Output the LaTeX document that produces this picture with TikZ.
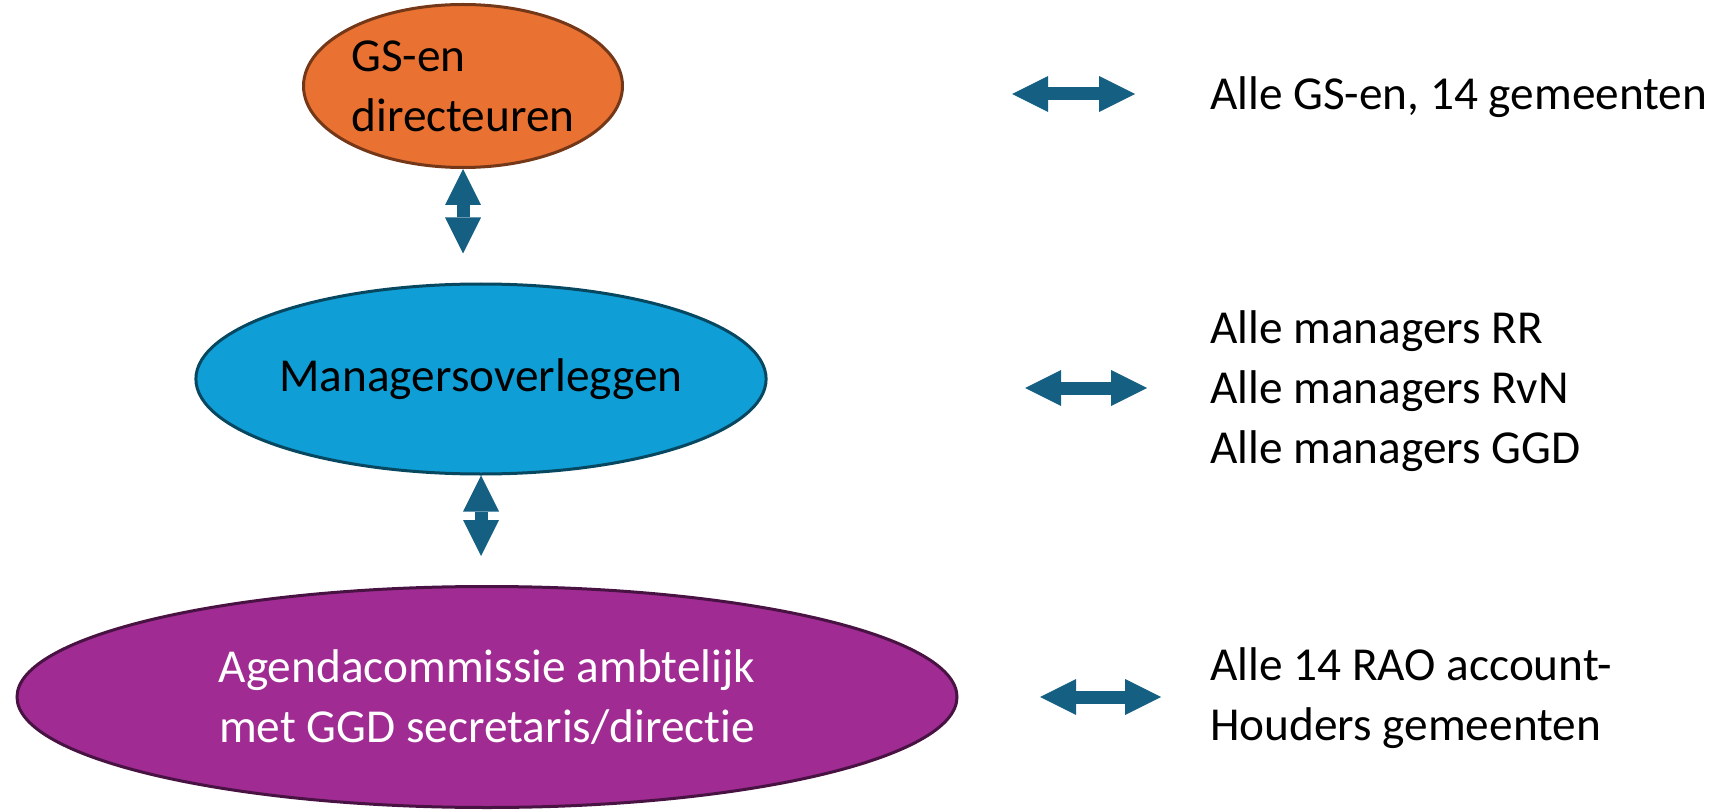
\documentclass[tikz,border=0pt]{standalone}
\usepackage{fontspec}
\setmainfont{Carlito}[Ligatures={NoCommon,NoRare,NoContextual}]
\usetikzlibrary{shapes, arrows.meta, positioning, calc}

\definecolor{gsorange}{HTML}{E97132}
\definecolor{mgblue}{HTML}{0F9ED5}
\definecolor{acpurple}{HTML}{A02B93}
\definecolor{arrowblue}{HTML}{156082}

\begin{document}
\begin{tikzpicture}[x=1pt, y=-1pt, font=\fontsize{47.3}{60}\selectfont,
	blob/.style={ellipse, draw, line width=3pt, inner sep=0pt},
	dbl/.style={draw=arrowblue, line width=13pt,
		{Triangle[length=36pt, width=36pt, line width=0pt]}-{Triangle[length=36pt, width=36pt, line width=0pt]}},
	info/.style={anchor=west, align=left, inner sep=0pt}]
			\useasboundingbox (0, 0) rectangle (1729, 810);
			
			\node[blob, fill=gsorange, draw=gsorange!50!black, minimum width=319pt, minimum height=163pt, align=left] (GS) at (463, 86) {GS-en\\directeuren};
			\node[blob, fill=mgblue, draw=mgblue!45!black, minimum width=538pt, minimum height=190pt] (MO) at (481, 379) {Managersoverleggen};
			\node[blob, fill=acpurple, draw=acpurple!45!black, minimum width=940pt, minimum height=221pt, text=white, align=center] (AC) at (487, 697) {Agendacommissie ambtelijk\\met GGD secretaris/directie};
			
			\node[info] (T1) at (1210, 97) {Alle GS-en, 14 gemeenten};
			\node[info] (T2) at (1210, 391) {Alle managers RR\\Alle managers RvN\\Alle managers GGD};
			\node[info] (T3) at (1210, 698) {Alle 14 RAO account-\\Houders gemeenten};
			
			\coordinate (L1) at (1012, 94);
			\coordinate (R1) at (1135, 94);
			\coordinate (L2) at (1025, 388);
			\coordinate (R2) at (1147, 388);
			\coordinate (L3) at (1040, 697);
			\coordinate (R3) at (1161, 697);
			
			\draw[dbl, shorten >=29pt] (GS.south) -- (GS.south |- MO.north);
			\draw[dbl, shorten >=29pt] (MO.south) -- (MO.south |- AC.north);
			
			\draw[dbl] (L1) -- (R1);
			\draw[dbl] (L2) -- (R2);
			\draw[dbl] (L3) -- (R3);
			
		\end{tikzpicture}
\end{document}
